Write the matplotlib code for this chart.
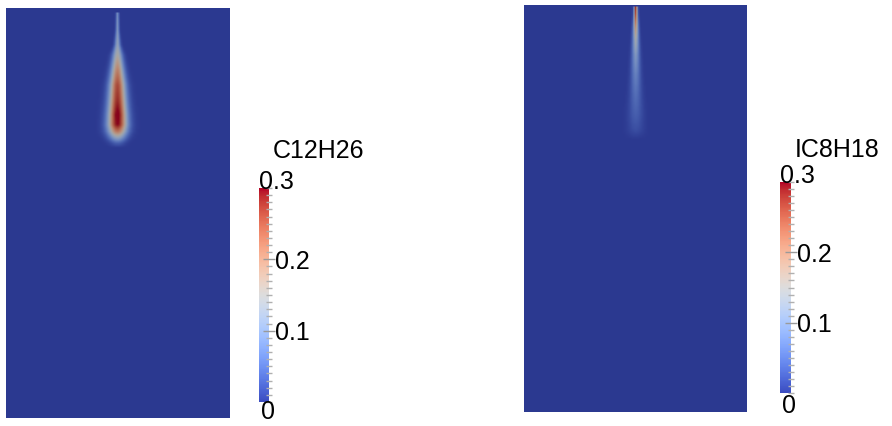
import numpy as np
import matplotlib
matplotlib.use("Agg")
import matplotlib.pyplot as plt
from matplotlib.colors import ListedColormap, Normalize
from matplotlib.cm import ScalarMappable
from matplotlib.ticker import MultipleLocator

plt.rcParams['font.family'] = ['Liberation Sans', 'DejaVu Sans']

W, H = 892, 426

# ---------------- data ----------------
species = ["C12H26", "IC8H18"]
vmin, vmax = 0.0, 0.3
major_ticks = [0.1, 0.2]
major_labels = ["0.1", "0.2"]
top_label, bottom_label = "0.3", "0"

# C12H26 plume: axial station (px from image top), centreline mass fraction, half-width (px)
c12_y = [12, 30, 45, 55, 70, 85, 100, 115, 125, 132, 138, 143, 148]
c12_val = [0.09, 0.10, 0.12, 0.15, 0.21, 0.26, 0.28, 0.31, 0.30, 0.22, 0.12, 0.04, 0.0]
c12_sig = [1.0, 1.2, 2.0, 3.5, 4.5, 5.5, 6.0, 6.5, 6.8, 6.8, 6.3, 5.5, 5.0]

# IC8H18 plume
ic8_y = [7, 14, 20, 28, 40, 55, 75, 95, 115, 130, 140]
ic8_val = [0.28, 0.26, 0.23, 0.19, 0.14, 0.10, 0.07, 0.05, 0.035, 0.02, 0.0]
ic8_sig = [1.2, 1.3, 1.5, 1.8, 2.2, 2.7, 3.3, 4.0, 5.0, 5.5, 6.0]

# ---------------- layout (pixels) ----------------
domains = [(6, 8, 230, 418, 118), (524, 5, 747, 412, 636)]
cbars = [(259, 188, 269, 402), (780, 182, 791, 393)]
titles = [(273, 158), (795, 157)]
profiles = [(c12_y, c12_val, c12_sig), (ic8_y, ic8_val, ic8_sig)]

fig = plt.figure(figsize=(W / 100, H / 100), dpi=100)


def add_px_axes(x0, y0, x1, y1):
    return fig.add_axes([x0 / W, 1 - y1 / H, (x1 - x0) / W, (y1 - y0) / H])


base = plt.get_cmap('coolwarm')
shade = base(np.linspace(0, 1, 256))
shade[:, :3] *= 0.75
field_cmap = ListedColormap(shade)
norm = Normalize(vmin, vmax)

for (x0, y0, x1, y1, xc), (py, pv, ps) in zip(domains, profiles):
    ax = add_px_axes(x0, y0, x1, y1)
    cell = 1.5
    xs = np.arange(x0, x1, cell) + cell / 2
    ys = np.arange(y0, y1, cell) + cell / 2
    X, Y = np.meshgrid(xs, ys)
    val = np.interp(Y, py, pv, left=0.0, right=0.0)
    sig = np.interp(Y, py, ps)
    F = val * np.exp(-0.5 * ((X - xc) / sig) ** 2)
    ax.imshow(F, cmap=field_cmap, norm=norm, extent=[x0, x1, y1, y0],
              aspect='auto', interpolation='bilinear')
    ax.set_xlim(x0, x1)
    ax.set_ylim(y1, y0)
    ax.axis('off')

for (x0, y0, x1, y1), name, (tx, ty) in zip(cbars, species, titles):
    cax = add_px_axes(x0, y0, x1, y1)
    cb = fig.colorbar(ScalarMappable(norm=norm, cmap=base), cax=cax)
    cb.outline.set_visible(False)
    cb.set_ticks(major_ticks)
    cb.set_ticklabels(major_labels)
    cax.yaxis.set_minor_locator(MultipleLocator(0.01))
    cax.tick_params(which='major', direction='inout', length=9, width=1,
                    color='#9a9a9a', labelsize=18, pad=0)
    cax.tick_params(which='minor', direction='inout', length=5, width=1,
                    color='#b0b0b0')
    fig.text(x0 / W, 1 - (y0 + 1) / H, top_label, fontsize=18,
             ha='left', va='baseline')
    fig.text((x0 + 2) / W, 1 - min(y1 + 20, 419) / H, bottom_label, fontsize=18,
             ha='left', va='baseline')
    fig.text(tx / W, 1 - ty / H, name, fontsize=18, ha='left', va='baseline')

fig.savefig("out.png", dpi=100)
